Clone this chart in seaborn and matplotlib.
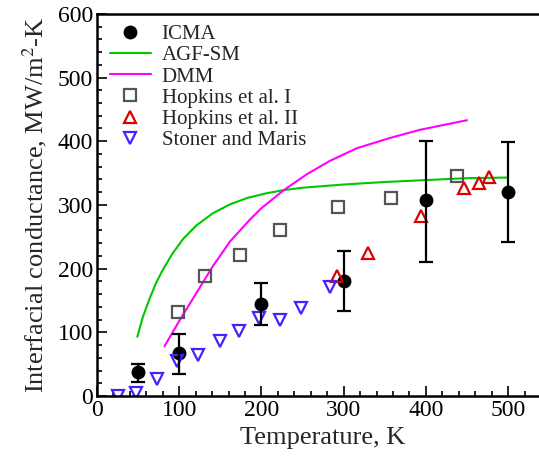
import numpy as np
import pandas as pd
import matplotlib
matplotlib.use("Agg")
import matplotlib.pyplot as plt
from matplotlib.ticker import MultipleLocator
import seaborn as sns

# ICMA (with error bars)
icma_T = [50, 100, 200, 300, 400, 500]
icma_G = [37, 67, 144, 181, 307, 321]
icma_lo = [22, 35, 111, 134, 211, 242]
icma_hi = [51, 98, 177, 228, 401, 399]

# AGF-SM curve
agf_T = [49, 56, 64, 72, 80, 92, 105, 121, 141, 162, 183, 205, 226, 250,
         300, 350, 400, 450, 500]
agf_G = [93, 125, 153, 178, 198, 224, 247, 268, 287, 301, 311, 318, 323, 327,
         332, 336, 339, 342, 343]

# DMM curve
dmm_T = [82, 101, 121, 141, 162, 186, 200, 227, 255, 283, 316, 356, 393, 450]
dmm_G = [78, 120, 162, 204, 243, 277, 295, 323, 348, 369, 389, 405, 418, 433]

# Hopkins et al. I
hop1_T = [98, 131, 174, 223, 293, 358, 438]
hop1_G = [132, 188, 222, 260, 297, 311, 345]

# Hopkins et al. II
hop2_T = [292, 330, 394, 446, 464, 477]
hop2_G = [188, 225, 283, 326, 335, 344]

# Stoner and Maris
sm_T = [25, 47, 73, 97, 123, 149, 173, 197, 223, 248, 283]
sm_G = [0, 5, 26, 55, 64, 87, 102, 122, 119, 138, 171]

sns.set_style("ticks")
plt.rcParams['font.family'] = ['Liberation Serif', 'DejaVu Serif']
plt.rcParams['mathtext.fontset'] = 'stix'

fig = plt.figure(figsize=(5.39, 4.61), dpi=100)
ax = fig.add_axes([0.18, 0.141, 0.839, 0.829])

icma_err = [np.array(icma_G) - np.array(icma_lo), np.array(icma_hi) - np.array(icma_G)]
ax.errorbar(icma_T, icma_G, yerr=icma_err, fmt='none', ecolor='black',
            elinewidth=1.6, capsize=5, capthick=1.6, zorder=3)

h_icma = sns.lineplot(x=icma_T, y=icma_G, ax=ax, marker='o', linestyle='none',
                      color='black', ms=10, mew=0, estimator=None, sort=False).lines[-1]
h_agf = sns.lineplot(x=agf_T, y=agf_G, ax=ax, color='#00c800', lw=1.5,
                     estimator=None, sort=False).lines[-1]
h_dmm = sns.lineplot(x=dmm_T, y=dmm_G, ax=ax, color='#ff00ff', lw=1.5,
                     estimator=None, sort=False).lines[-1]
h_h1 = sns.lineplot(x=hop1_T, y=hop1_G, ax=ax, marker='s', linestyle='none',
                    mfc='none', mec='#555555', ms=8, mew=1.6,
                    estimator=None, sort=False).lines[-1]
h_h2 = sns.lineplot(x=hop2_T, y=hop2_G, ax=ax, marker='^', linestyle='none',
                    mfc='none', mec='#dd0000', ms=9, mew=1.6,
                    estimator=None, sort=False).lines[-1]
h_sm = sns.lineplot(x=sm_T, y=sm_G, ax=ax, marker='v', linestyle='none',
                    mfc='none', mec='#4a1fff', ms=9, mew=1.6,
                    estimator=None, sort=False).lines[-1]

ax.set_xlim(0, 550)
ax.set_ylim(0, 600)
ax.xaxis.set_major_locator(MultipleLocator(100))
ax.xaxis.set_minor_locator(MultipleLocator(20))
ax.yaxis.set_major_locator(MultipleLocator(100))
ax.yaxis.set_minor_locator(MultipleLocator(20))
ax.tick_params(which='both', direction='in', top=False, right=False,
               labelsize=17, width=1.2, colors='black', pad=3)
ax.tick_params(which='major', length=7)
ax.tick_params(which='minor', length=3.5)
for s in ax.spines.values():
    s.set_linewidth(1.8)
    s.set_color('black')

ax.set_xlabel('Temperature, K', fontsize=19, labelpad=4)
ax.set_ylabel('Interfacial conductance, MW/m$^2$-K', fontsize=19, labelpad=6)

ax.legend([h_icma, h_agf, h_dmm, h_h1, h_h2, h_sm],
          ['ICMA', 'AGF-SM', 'DMM', 'Hopkins et al. I', 'Hopkins et al. II', 'Stoner and Maris'],
          loc='upper left', bbox_to_anchor=(0.0, 1.005), frameon=False,
          fontsize=15, labelspacing=0.08, handlelength=2.0, handletextpad=0.5,
          borderaxespad=0.2)

fig.savefig('out.png', dpi=100)
